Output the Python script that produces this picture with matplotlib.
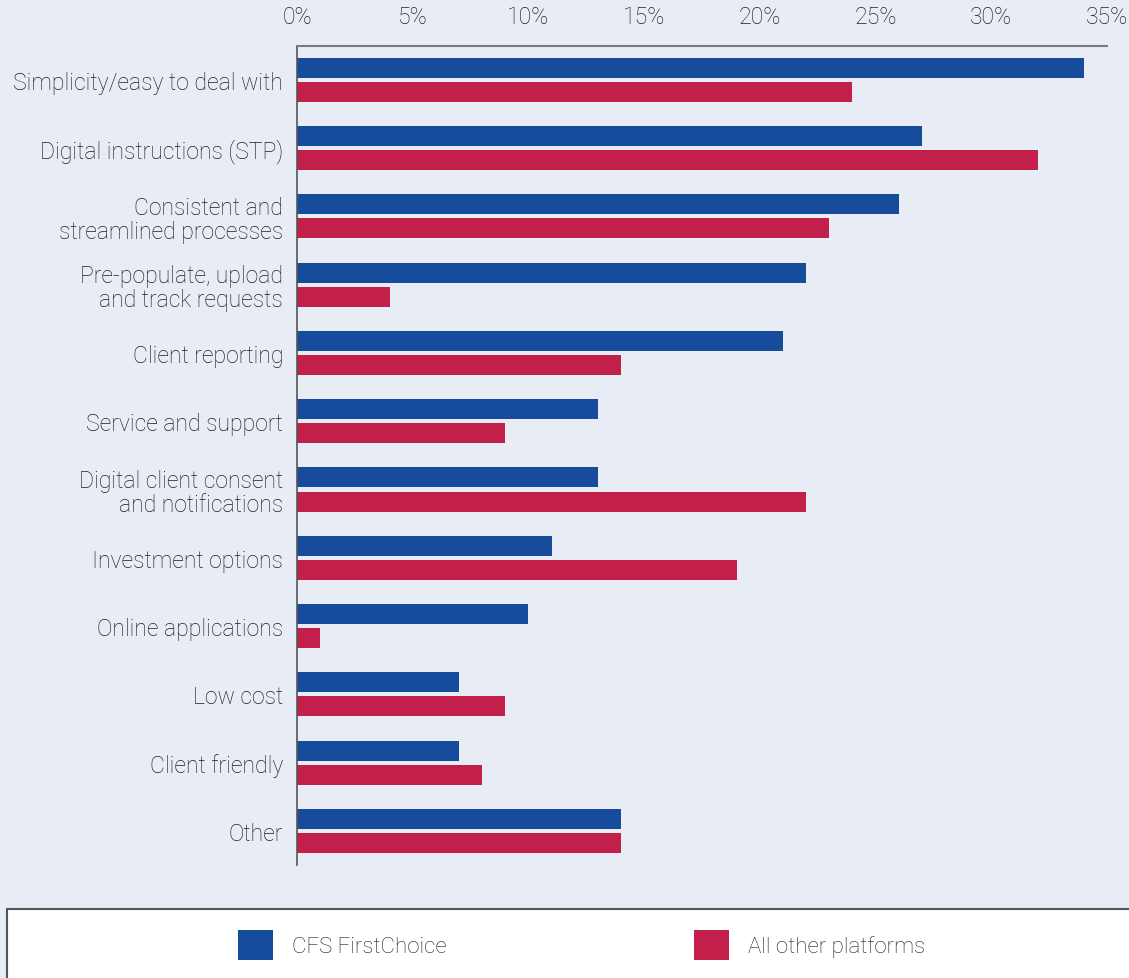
import numpy as np
import matplotlib
matplotlib.use("Agg")
import matplotlib.pyplot as plt
from matplotlib.patches import Rectangle
from matplotlib.ticker import FuncFormatter

plt.rcParams['font.family'] = ['Roboto', 'DejaVu Sans']
plt.rcParams['font.weight'] = 'light'

categories = [
    "Simplicity/easy to deal with",
    "Digital instructions (STP)",
    "Consistent and\nstreamlined processes",
    "Pre-populate, upload\nand track requests",
    "Client reporting",
    "Service and support",
    "Digital client consent\nand notifications",
    "Investment options",
    "Online applications",
    "Low cost",
    "Client friendly",
    "Other",
]
firstchoice = [34, 27, 26, 22, 21, 13, 13, 11, 10, 7, 7, 14]
other_platforms = [24, 32, 23, 4, 14, 9, 22, 19, 1, 9, 8, 14]
series_names = ["CFS FirstChoice", "All other platforms"]
xticks = [0, 5, 10, 15, 20, 25, 30, 35]

BLUE = "#174B9C"
RED = "#C21F4A"
BG = "#E8ECF5"
TEXT = "#1f1f1f"

W, H = 1129, 979
fig = plt.figure(figsize=(W / 100, H / 100), dpi=100, facecolor=BG)
ax = fig.add_axes([297 / W, 113 / H, 810 / W, 819.3 / H])
ax.set_facecolor(BG)

y = np.arange(len(categories))
bar_h = 0.293
off = 0.176
b1 = ax.barh(y - off, firstchoice, height=bar_h, color=BLUE, label=series_names[0])
b2 = ax.barh(y + off, other_platforms, height=bar_h, color=RED, label=series_names[1])

ax.set_xlim(0, 35)
ax.set_ylim(len(categories) - 0.5, -0.5)
ax.set_xticks(xticks)
ax.xaxis.set_major_formatter(FuncFormatter(lambda v, p: f"{v:.0f}%"))
ax.xaxis.tick_top()
ax.tick_params(axis='x', length=0, pad=13, labelsize=16.6, labelcolor=TEXT)
ax.set_yticks(y)
ax.set_yticklabels(categories, linespacing=1.05)
ax.tick_params(axis='y', length=0, pad=10, labelsize=16.6, labelcolor=TEXT)

for s in ["right", "bottom"]:
    ax.spines[s].set_visible(False)
ax.spines["top"].set_color("#7a7a7a")
ax.spines["top"].set_linewidth(1.5)
ax.spines["left"].set_color("#555555")
ax.spines["left"].set_linewidth(1.2)

# white legend panel along the bottom
panel = Rectangle((7 / W, -0.01), 1.02, (979 - 910) / H + 0.01, transform=fig.transFigure,
                  facecolor="white", edgecolor="#555555", linewidth=1.5)
fig.patches.append(panel)

fig.legend(handles=[b1, b2], labels=series_names, loc="center left",
           bbox_to_anchor=(238 / W, 33 / H), ncol=2, frameon=False,
           fontsize=16, labelcolor=TEXT, borderpad=0, borderaxespad=0,
           handlelength=1.58, handleheight=1.7, handletextpad=0.86,
           columnspacing=11.1)

fig.savefig("out.png", dpi=100, facecolor=BG)
